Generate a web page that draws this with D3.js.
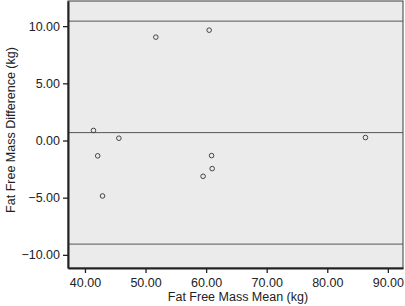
<!DOCTYPE html>
<html>
<head>
<meta charset="utf-8">
<script src="https://cdn.jsdelivr.net/npm/d3@7"></script>
<style>
  body { margin: 0; background: #fff; }
  svg text { font-family: "Liberation Sans", Arial, sans-serif; fill: #222; }
</style>
</head>
<body>
<svg id="chart" width="405" height="306"></svg>
<script>
// Bland-Altman points: mean vs difference of fat free mass
var meanValues = [41.4, 42.1, 42.9, 45.6, 51.7, 59.5, 60.5, 60.9, 61.0, 86.3];
var diffValues = [0.88, -1.34, -4.85, 0.2, 9.04, -3.13, 9.65, -1.32, -2.46, 0.26];
// bias line and limits of agreement
var refLines = [10.44, 0.69, -9.06];
var xTicks = [40, 50, 60, 70, 80, 90];
var yTicks = [-10, -5, 0, 5, 10];

var margin = {top: 1, right: 2, bottom: 38, left: 68};
var svg = d3.select("#chart");
var width = +svg.attr("width") - margin.left - margin.right,
    height = +svg.attr("height") - margin.top - margin.bottom;

var g = svg.append("g").attr("transform", "translate(" + margin.left + "," + margin.top + ")");

var x = d3.scaleLinear().domain([37.2, 92.5]).range([0, width]);
var y = d3.scaleLinear().domain([-11.15, 12.2]).range([height, 0]);

g.append("rect")
    .attr("width", width)
    .attr("height", height)
    .attr("fill", "#ebebeb")
    .attr("stroke", "#3a3a3a")
    .attr("stroke-width", 1);

g.selectAll(".ref")
    .data(refLines)
    .enter().append("line")
    .attr("class", "ref")
    .attr("x1", 0).attr("x2", width)
    .attr("y1", function(d) { return y(d); })
    .attr("y2", function(d) { return y(d); })
    .attr("stroke", "#555")
    .attr("stroke-width", 1);

var fmt = d3.format(".2f");
var fmtTick = function(d) { return fmt(d).replace("-", "\u2212"); };

var xAxis = g.append("g")
    .attr("transform", "translate(0," + height + ")")
    .call(d3.axisBottom(x).tickValues(xTicks).tickFormat(fmtTick).tickSize(5).tickSizeOuter(0));
var yAxis = g.append("g")
    .call(d3.axisLeft(y).tickValues(yTicks).tickFormat(fmtTick).tickSize(5).tickSizeOuter(0));

[xAxis, yAxis].forEach(function(a) {
    a.select(".domain").attr("stroke", "#222").attr("stroke-width", 2);
    a.selectAll(".tick line").attr("stroke", "#222").attr("stroke-width", 1.3);
    a.selectAll(".tick text").attr("font-size", 12.5).attr("fill", "#222");
});
xAxis.selectAll(".tick text").attr("dy", "0.9em");

g.selectAll(".pt")
    .data(meanValues)
    .enter().append("circle")
    .attr("class", "pt")
    .attr("cx", function(d) { return x(d); })
    .attr("cy", function(d, i) { return y(diffValues[i]); })
    .attr("r", 2.3)
    .attr("fill", "none")
    .attr("stroke", "#444")
    .attr("stroke-width", 1);

svg.append("text")
    .attr("x", 238)
    .attr("y", 301)
    .attr("text-anchor", "middle")
    .attr("font-size", 12.5)
    .text("Fat Free Mass Mean (kg)");

svg.append("text")
    .attr("transform", "translate(11,130) rotate(-90)")
    .attr("text-anchor", "middle")
    .attr("dy", "0.35em")
    .attr("font-size", 12.5)
    .text("Fat Free Mass Difference (kg)");
</script>
</body>
</html>
